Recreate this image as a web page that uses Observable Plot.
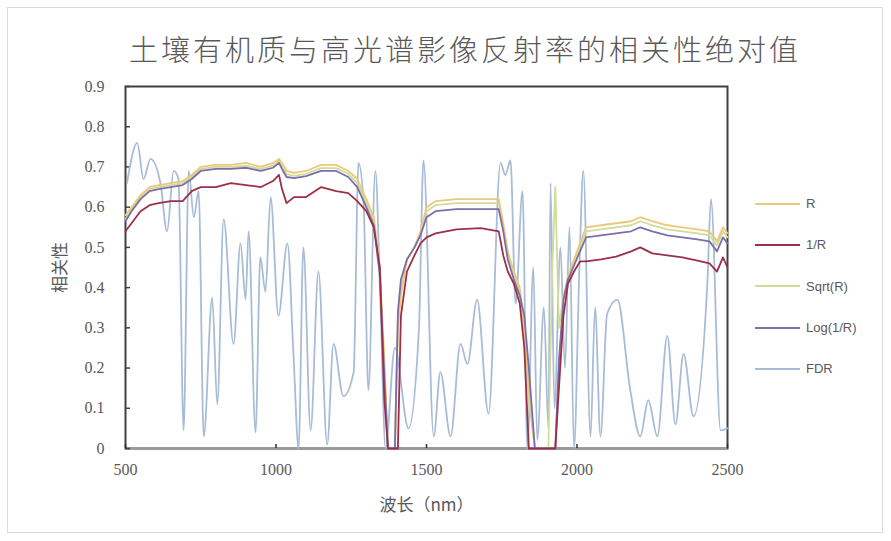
<!DOCTYPE html>
<html><head><meta charset="utf-8">
<script src="https://cdn.jsdelivr.net/npm/d3@7"></script>
<script src="https://cdn.jsdelivr.net/npm/@observablehq/plot@0.6"></script>
<style>
body{margin:0;background:#fff;}
#wrap{position:relative;width:891px;height:541px;overflow:hidden;}
#border{position:absolute;left:7px;top:7px;width:876px;height:526px;border:1px solid #d9d9d9;box-sizing:border-box;pointer-events:none;}
#title{position:absolute;left:110px;width:710px;top:27px;text-align:center;font-family:"Noto Sans CJK SC",sans-serif;font-weight:300;font-size:29px;color:#595959;letter-spacing:3px;white-space:nowrap;}
#legend{position:absolute;left:755px;top:183px;font-family:"Liberation Sans",sans-serif;font-size:13px;color:#595959;}
.lg{display:flex;align-items:center;height:41.3px;}
.lg span.sw{display:inline-block;width:45px;height:2px;margin-right:6px;}
svg [aria-label="y-axis label"] text, svg [aria-label="x-axis label"] text{font-family:"Noto Sans CJK SC",sans-serif;font-size:17px;fill:#595959;}
</style></head><body><div id="wrap"><div id="border"></div><div id="title"></div><div id="legend"></div></div>
<script>
const titleText = "土壤有机质与高光谱影像反射率的相关性绝对值";
const xLabel = "波长（nm）";
const yLabel = "相关性";
const seriesNames = ["R", "1/R", "Sqrt(R)", "Log(1/R)", "FDR"];
const seriesColors = ["#ebc97c", "#9b3048", "#cfdc9a", "#7d6dab", "#a8bcd6"];
const xTicks = [500, 1000, 1500, 2000, 2500];
const yTicks = [0, 0.1, 0.2, 0.3, 0.4, 0.5, 0.6, 0.7, 0.8, 0.9];

const wavelength = [
  500,520,550,580,610,650,690,720,750,800,
  850,900,950,990,1010,1020,1035,1060,1100,1150,
  1200,1240,1270,1300,1325,1345,1360,1372,1395,1405,
  1415,1435,1460,1480,1500,1530,1600,1680,1740,1755,
  1770,1790,1810,1825,1840,1860,1905,1918,1928,1940,
  1955,1970,1990,2010,2030,2080,2130,2180,2210,2250,
  2300,2350,2400,2440,2465,2485,2500];
const rVals = [
  0.58,0.60,0.63,0.65,0.655,0.66,0.665,0.68,0.70,0.705,
  0.705,0.71,0.70,0.71,0.72,0.71,0.69,0.685,0.69,0.705,
  0.705,0.69,0.67,0.62,0.575,0.45,0.22,0.0,0.0,0.30,
  0.38,0.47,0.50,0.54,0.60,0.615,0.62,0.62,0.62,0.56,
  0.49,0.44,0.40,0.30,0.15,0.0,0.0,0.0,0.0,0.20,
  0.37,0.43,0.47,0.51,0.55,0.555,0.56,0.565,0.575,0.565,
  0.555,0.55,0.545,0.54,0.515,0.55,0.535];
const invRVals = [
  0.54,0.56,0.59,0.605,0.61,0.615,0.615,0.64,0.65,0.65,
  0.66,0.655,0.65,0.665,0.68,0.645,0.61,0.625,0.625,0.65,
  0.64,0.635,0.615,0.59,0.55,0.45,0.12,0.0,0.0,0.0,
  0.33,0.44,0.48,0.51,0.525,0.535,0.545,0.548,0.54,0.48,
  0.44,0.41,0.36,0.25,0.0,0.0,0.0,0.0,0.0,0.15,
  0.33,0.41,0.44,0.465,0.465,0.47,0.477,0.49,0.50,0.485,
  0.48,0.475,0.467,0.46,0.44,0.475,0.45];
const sqrtRVals = [
  0.57,0.595,0.625,0.645,0.65,0.655,0.66,0.675,0.695,0.70,
  0.70,0.703,0.695,0.703,0.715,0.70,0.682,0.678,0.683,0.697,
  0.697,0.683,0.66,0.61,0.565,0.44,0.20,0.0,0.0,0.32,
  0.40,0.47,0.50,0.535,0.59,0.605,0.61,0.61,0.61,0.55,
  0.48,0.43,0.39,0.29,0.12,0.0,0.0,0.45,0.65,0.30,
  0.38,0.42,0.46,0.50,0.54,0.545,0.55,0.555,0.565,0.555,
  0.545,0.54,0.535,0.53,0.505,0.54,0.525];
const logInvRVals = [
  0.565,0.59,0.62,0.64,0.645,0.65,0.655,0.67,0.69,0.695,
  0.695,0.698,0.69,0.698,0.71,0.695,0.675,0.672,0.677,0.69,
  0.69,0.675,0.65,0.60,0.555,0.43,0.18,0.0,0.0,0.34,
  0.42,0.47,0.50,0.53,0.575,0.59,0.595,0.595,0.595,0.54,
  0.47,0.42,0.38,0.33,0.20,0.0,0.0,0.0,0.0,0.22,
  0.37,0.42,0.455,0.49,0.525,0.53,0.535,0.54,0.55,0.54,
  0.53,0.525,0.52,0.515,0.49,0.525,0.51];

const fdrWavelength = [
  505,539,560,583,616,638,660,676,693,710,
  727,743,760,788,805,826,859,882,899,909,
  932,948,965,982,1008,1038,1058,1075,1091,1115,
  1141,1170,1191,1224,1258,1274,1291,1307,1330,1347,
  1364,1395,1440,1475,1490,1524,1546,1580,1613,1636,
  1668,1706,1746,1762,1779,1796,1819,1835,1855,1868,
  1890,1905,1912,1925,1945,1960,1975,1990,2008,2021,
  2045,2060,2078,2100,2134,2177,2210,2237,2267,2300,
  2327,2354,2387,2433,2445,2477,2500];
const fdrVals = [
  0.66,0.76,0.67,0.72,0.66,0.54,0.69,0.67,0.045,0.69,
  0.575,0.64,0.03,0.375,0.11,0.57,0.26,0.51,0.37,0.54,
  0.04,0.475,0.39,0.625,0.33,0.51,0.235,0.0,0.5,0.045,
  0.44,0.01,0.26,0.13,0.19,0.71,0.61,0.145,0.69,0.36,
  0.0,0.25,0.05,0.3,0.716,0.03,0.19,0.03,0.26,0.21,
  0.37,0.087,0.71,0.68,0.716,0.36,0.64,0.0,0.45,0.02,
  0.35,0.05,0.66,0.1,0.5,0.2,0.55,0.0,0.45,0.69,
  0.03,0.35,0.03,0.335,0.37,0.145,0.03,0.12,0.03,0.28,
  0.06,0.235,0.08,0.41,0.62,0.045,0.05];

const mainSeries = [
  {name: "Sqrt(R)", vals: sqrtRVals},
  {name: "R", vals: rVals},
  {name: "Log(1/R)", vals: logInvRVals},
  {name: "1/R", vals: invRVals}
];
const rows = [];
for (const s of mainSeries) wavelength.forEach((w, i) => rows.push({series: s.name, wl: w, v: s.vals[i]}));
const fdrRows = fdrWavelength.map((w, i) => ({series: "FDR", wl: w, v: fdrVals[i]}));
const colorOf = Object.fromEntries(seriesNames.map((n, i) => [n, seriesColors[i]]));

const chart = Plot.plot({
  width: 891, height: 541,
  marginLeft: 125, marginRight: 164, marginTop: 86, marginBottom: 93,
  style: {fontFamily: "'Liberation Serif', serif", fontSize: "16px", color: "#595959", background: "transparent"},
  x: {domain: [500, 2500]},
  y: {domain: [0, 0.9]},
  color: {domain: seriesNames, range: seriesColors},
  marks: [
    Plot.frame({stroke: "#404040", strokeWidth: 2}),
    Plot.ruleY([0], {stroke: "#9a9a9a", strokeWidth: 2.5}),
    Plot.axisY(yTicks, {tickSize: 0, tickPadding: 21, fontSize: 16, tickFormat: d => d === 0 ? "0" : d.toFixed(1), label: yLabel, labelAnchor: "center", labelArrow: "none", labelOffset: 72, fill: "#595959"}),
    Plot.axisY(yTicks, {tickSize: -5, text: null, label: null, stroke: "#404040", strokeWidth: 1.5}),
    Plot.axisX(xTicks, {tickSize: 0, tickPadding: 15, fontSize: 16, tickFormat: d => String(d), label: xLabel, labelAnchor: "center", labelArrow: "none", labelOffset: 62, fill: "#595959"}),
    Plot.axisX(xTicks, {tickSize: -4, text: null, label: null, stroke: "#303030", strokeWidth: 1.5}),
    Plot.line(fdrRows, {x: "wl", y: "v", stroke: "series", strokeWidth: 1.8, curve: "monotone-x"}),
    Plot.line(rows, {x: "wl", y: "v", z: "series", stroke: "series", strokeWidth: 1.8})
  ]
});
document.getElementById("wrap").prepend(chart);
document.getElementById("title").textContent = titleText;

const legend = d3.select("#legend");
seriesNames.forEach(n => {
  const row = legend.append("div").attr("class", "lg");
  row.append("span").attr("class", "sw").style("background", colorOf[n]);
  row.append("span").text(n);
});
</script></body></html>
